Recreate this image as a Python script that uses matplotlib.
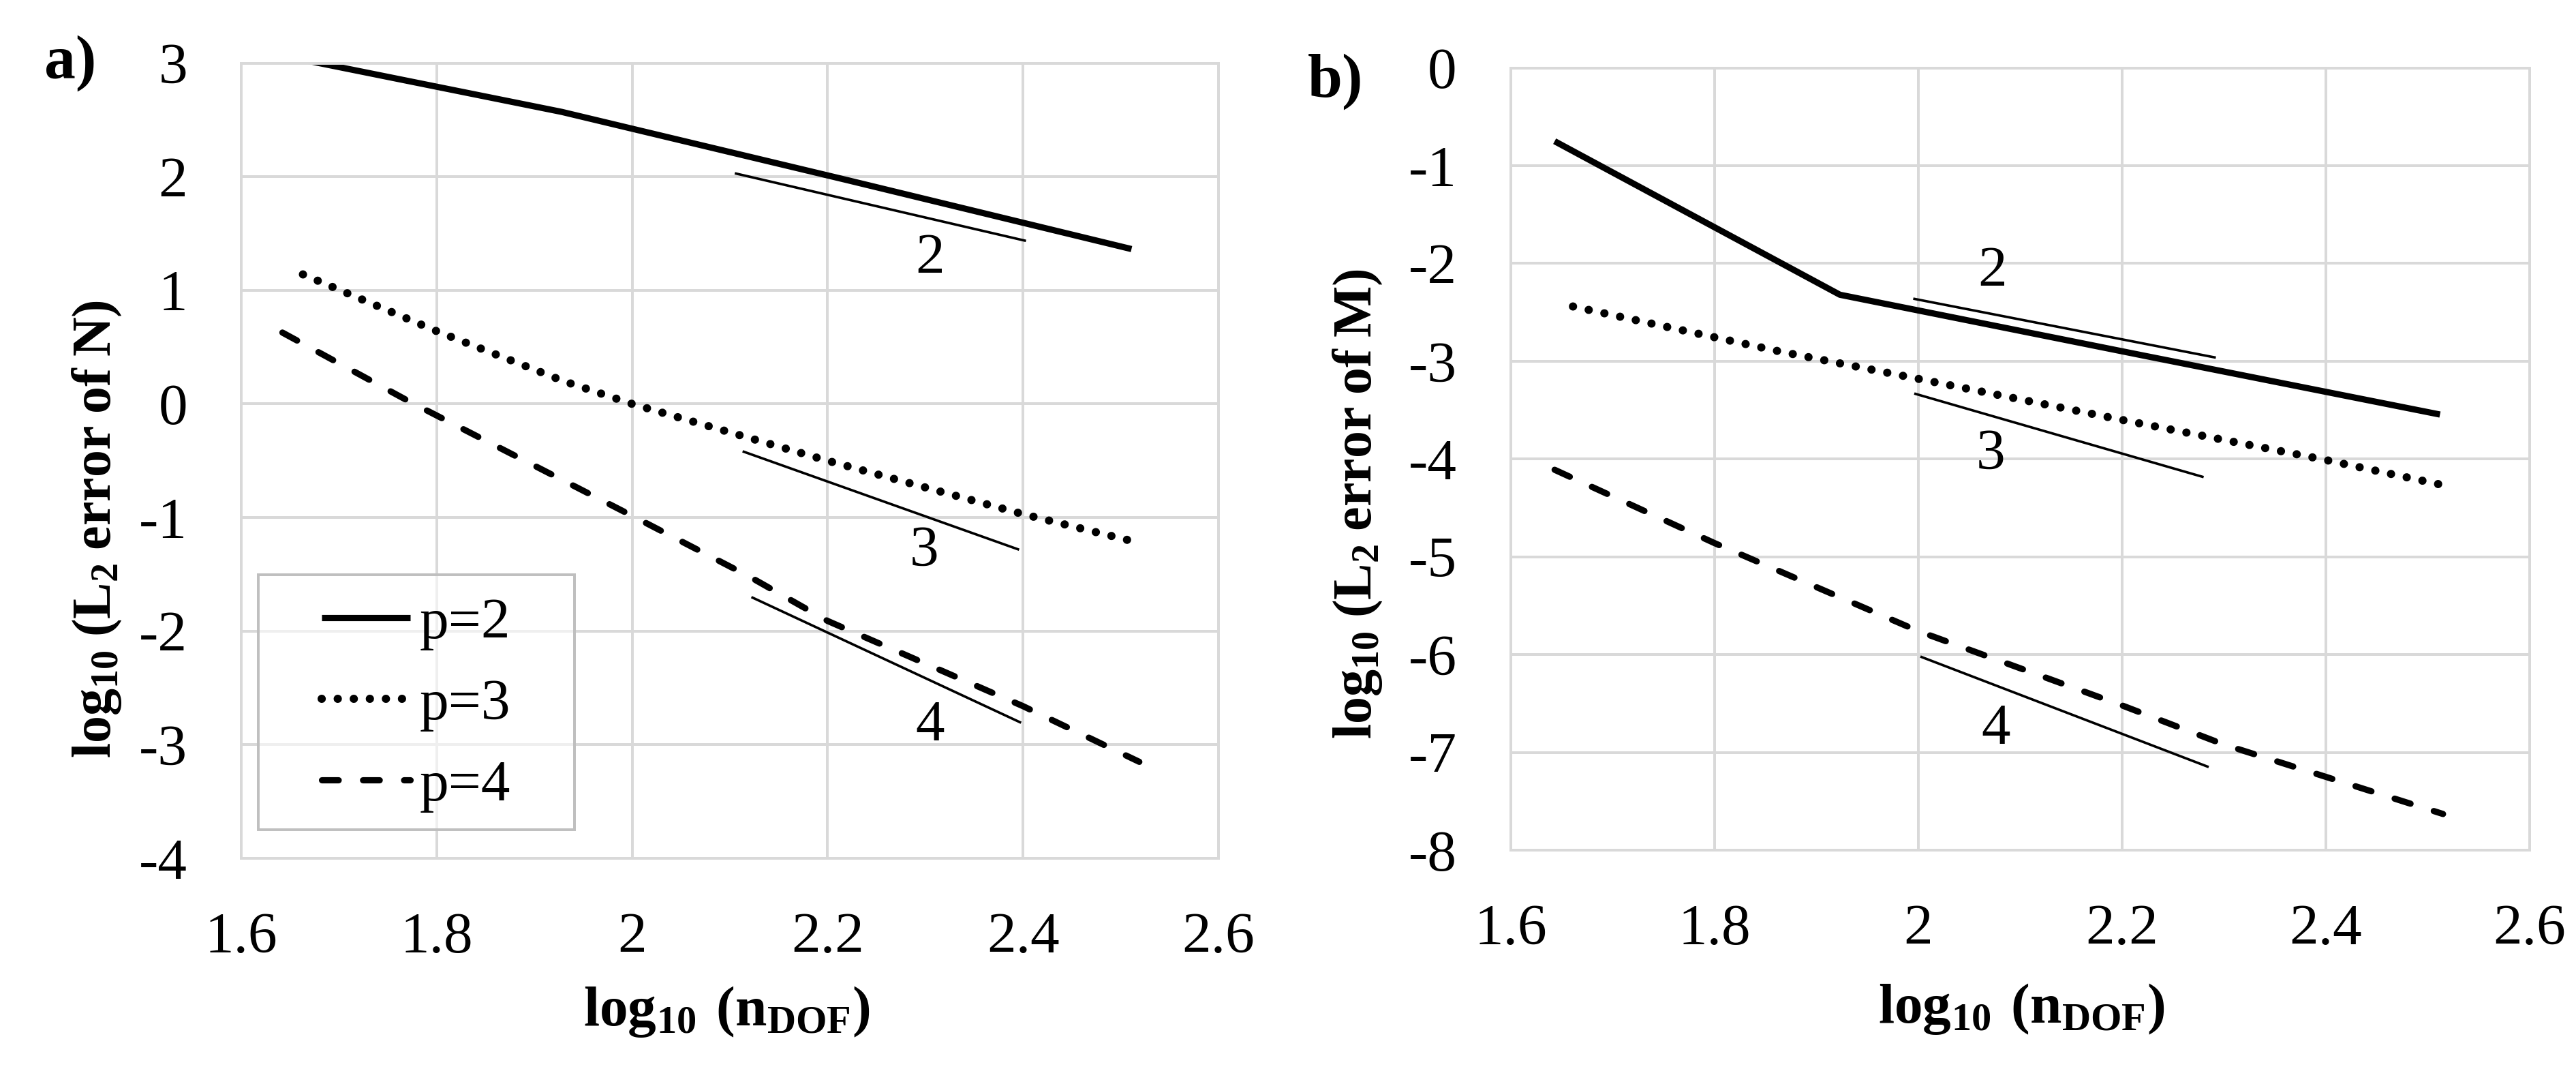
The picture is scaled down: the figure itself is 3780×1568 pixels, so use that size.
import matplotlib
matplotlib.use('Agg')
import matplotlib.pyplot as plt
from matplotlib.patches import Rectangle
from matplotlib.ticker import FuncFormatter

plt.rcParams['font.family'] = ['Liberation Serif', 'DejaVu Serif']
plt.rcParams['mathtext.fontset'] = 'custom'
plt.rcParams['mathtext.rm'] = 'Liberation Serif'
plt.rcParams['mathtext.bf'] = 'Liberation Serif:bold'
plt.rcParams['axes.unicode_minus'] = False

# ---- a) error of N ----
x_n_p2 = [1.645, 1.928, 2.22, 2.511]
y_n_p2 = [3.06, 2.57, 1.97, 1.363]
x_n_p3 = [1.663, 1.80, 1.93, 2.0, 2.2, 2.4, 2.513]
y_n_p3 = [1.14, 0.64, 0.20, 0.0, -0.50, -0.97, -1.21]
x_n_p4 = [1.642, 1.77, 2.0, 2.12, 2.2, 2.4, 2.519]
y_n_p4 = [0.628, 0.03, -0.985, -1.52, -1.91, -2.66, -3.15]

# reference slopes (start, end) and label position
ref_n_x = [[2.105, 2.403], [2.113, 2.396], [2.122, 2.398]]
ref_n_y = [[2.03, 1.435], [-0.417, -1.283], [-1.70, -2.806]]
ref_n_lbl_x = [2.305, 2.299, 2.305]
ref_n_lbl_y = [1.27, -1.30, -2.84]

# ---- b) error of M ----
x_m_p2 = [1.643, 1.923, 2.22, 2.512]
y_m_p2 = [-0.75, -2.32, -2.94, -3.545]
x_m_p3 = [1.661, 1.864, 2.0, 2.2, 2.4, 2.512]
y_m_p3 = [-2.44, -2.90, -3.18, -3.60, -4.01, -4.26]
x_m_p4 = [1.643, 1.8, 2.0, 2.2, 2.3, 2.515]
y_m_p4 = [-4.11, -4.86, -5.76, -6.52, -6.92, -7.63]

ref_m_x = [[1.995, 2.292], [1.996, 2.280], [2.002, 2.285]]
ref_m_y = [[-2.36, -2.963], [-3.33, -4.185], [-6.02, -7.15]]
ref_m_lbl_x = [2.073, 2.071, 2.076]
ref_m_lbl_y = [-2.09, -3.96, -6.77]

ref_labels = ['2', '3', '4']
series_labels = ['p=2', 'p=3', 'p=4']
x_ticks = [1.6, 1.8, 2.0, 2.2, 2.4, 2.6]
y_ticks_n = [-4, -3, -2, -1, 0, 1, 2, 3]
y_ticks_m = [-8, -7, -6, -5, -4, -3, -2, -1, 0]

GRID = '#d9d9d9'
FS = 20.5
styles = [
    dict(lw=2.2, linestyle='-', solid_capstyle='butt', solid_joinstyle='round'),
    dict(lw=2.9, linestyle=(0, (0.01, 1.94)), dash_capstyle='round'),
    dict(lw=2.2, linestyle=(0, (2.67, 3.9)), dash_capstyle='round'),
]


def style_axes(ax, ylim, yticks):
    ax.set_xlim(1.6, 2.6)
    ax.set_ylim(*ylim)
    ax.set_xticks(x_ticks)
    ax.set_yticks(yticks)
    ax.grid(True, color=GRID, lw=0.95)
    ax.set_axisbelow(True)
    for s in ax.spines.values():
        s.set_color(GRID)
        s.set_linewidth(0.95)
    ax.tick_params(length=0, labelsize=FS, pad=19)
    fmt = FuncFormatter(lambda v, p: f'{v:g}')
    ax.xaxis.set_major_formatter(fmt)
    ax.yaxis.set_major_formatter(fmt)


def draw_panel(ax, xs, ys, rx, ry, lx, ly):
    for x, y, st, lab in zip(xs, ys, styles, series_labels):
        ax.plot(x, y, color='black', label=lab, **st)
    for x, y, tx, ty, t in zip(rx, ry, lx, ly, ref_labels):
        ax.plot(x, y, color='black', lw=0.87, solid_capstyle='butt')
        ax.text(tx, ty, t, ha='center', va='center', fontsize=FS)


fig = plt.figure(figsize=(12.6, 5.2267), dpi=300)
ax_n = fig.add_axes([0.0937, 0.197, 0.3793, 0.744])
ax_m = fig.add_axes([0.5865, 0.2047, 0.3955, 0.7318])

style_axes(ax_n, (-4, 3), y_ticks_n)
style_axes(ax_m, (-8, 0), y_ticks_m)

draw_panel(ax_n, [x_n_p2, x_n_p3, x_n_p4], [y_n_p2, y_n_p3, y_n_p4],
           ref_n_x, ref_n_y, ref_n_lbl_x, ref_n_lbl_y)
draw_panel(ax_m, [x_m_p2, x_m_p3, x_m_p4], [y_m_p2, y_m_p3, y_m_p4],
           ref_m_x, ref_m_y, ref_m_lbl_x, ref_m_lbl_y)

# legend box (a) only
ax_n.add_patch(Rectangle((0.0174, 0.0357), 0.3236, 0.321, transform=ax_n.transAxes,
                         facecolor=(1, 1, 1, 0.6), edgecolor='#bfbfbf', lw=0.95, zorder=1.5))
ax_n.legend(loc='center', bbox_to_anchor=(0.179, 0.193), frameon=False, fontsize=FS,
            handlelength=1.52, handletextpad=0.16, labelspacing=0.48,
            borderpad=0, borderaxespad=0)

# axis titles
ax_n.set_ylabel(r'$\mathbf{log_{10}\:(L_2\:error\:of\:N)}$', fontsize=19.2)
ax_m.set_ylabel(r'$\mathbf{log_{10}\:(L_2\:error\:of\:M)}$', fontsize=19.2)
for ax in (ax_n, ax_m):
    ax.set_xlabel(r'$\mathbf{log_{10}\ (n_{DOF})}$', fontsize=20)
    ax.xaxis.label.set_va('center')
    ax.yaxis.label.set_va('center')
ax_n.yaxis.set_label_coords(-0.148, 0.414)
ax_m.yaxis.set_label_coords(-0.150, 0.443)
ax_n.xaxis.set_label_coords(0.497, -0.193)
ax_m.xaxis.set_label_coords(0.501, -0.203)

fig.text(0.0272, 0.941, 'a)', fontsize=22, fontweight='bold', ha='center', va='center')
fig.text(0.5185, 0.9235, 'b)', fontsize=22, fontweight='bold', ha='center', va='center')

fig.savefig('out.png', dpi=300)
